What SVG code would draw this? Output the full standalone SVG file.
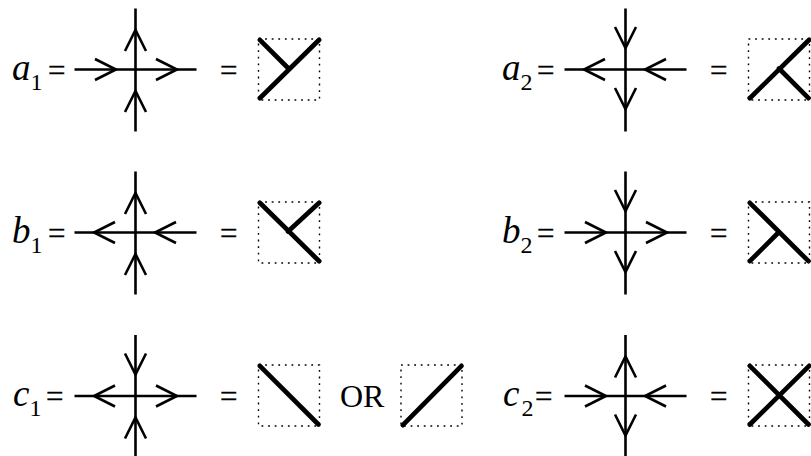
<svg xmlns="http://www.w3.org/2000/svg" width="811" height="456" viewBox="0 0 811 456">
<style>
.t{font-family:"Liberation Serif",serif;fill:#000}
.i{font-style:italic;font-size:37px}
.s{font-size:24px}
.e{font-size:31px;stroke:#000;stroke-width:.35}
.o{font-size:32px}
.w{fill:none;stroke:#000;stroke-width:2.6;stroke-linecap:butt}
.b{fill:none;stroke:#000;stroke-width:1.4;stroke-dasharray:1.8 4.8}
.k{fill:none;stroke:#000;stroke-width:4.7;stroke-linecap:round}
</style>
<defs>
<path id="cross" class="w" d="M-61 0H61M0-61V62"/>
<path id="hr" class="w" d="M-22.500-10.500L-1.500 0L-22.500 10.500"/>
<path id="box" class="b" d="M0 0H61V61H0Z"/>
</defs>
<g id="connectors">
<g id="a1-cross" transform="translate(135.500 69.500)"><use href="#cross"/><use href="#hr" transform="translate(-18 0)"/><use href="#hr" transform="translate(43 0)"/><use href="#hr" transform="translate(0 -41) rotate(-90)"/><use href="#hr" transform="translate(0 20) rotate(-90)"/></g>
<g id="a2-cross" transform="translate(625.500 69.500)"><use href="#cross"/><use href="#hr" transform="translate(-43 0) rotate(180)"/><use href="#hr" transform="translate(18 0) rotate(180)"/><use href="#hr" transform="translate(0 -20) rotate(90)"/><use href="#hr" transform="translate(0 41) rotate(90)"/></g>
<g id="b1-cross" transform="translate(135.500 232.500)"><use href="#cross"/><use href="#hr" transform="translate(-43 0) rotate(180)"/><use href="#hr" transform="translate(18 0) rotate(180)"/><use href="#hr" transform="translate(0 -41) rotate(-90)"/><use href="#hr" transform="translate(0 20) rotate(-90)"/></g>
<g id="b2-cross" transform="translate(625.500 232.500)"><use href="#cross"/><use href="#hr" transform="translate(-18 0)"/><use href="#hr" transform="translate(43 0)"/><use href="#hr" transform="translate(0 -20) rotate(90)"/><use href="#hr" transform="translate(0 41) rotate(90)"/></g>
<g id="c1-cross" transform="translate(135.500 396)"><use href="#cross"/><use href="#hr" transform="translate(-43 0) rotate(180)"/><use href="#hr" transform="translate(43 0)"/><use href="#hr" transform="translate(0 -20) rotate(90)"/><use href="#hr" transform="translate(0 20) rotate(-90)"/></g>
<g id="c2-cross" transform="translate(625.500 396)"><use href="#cross"/><use href="#hr" transform="translate(-18 0)"/><use href="#hr" transform="translate(18 0) rotate(180)"/><use href="#hr" transform="translate(0 -41) rotate(-90)"/><use href="#hr" transform="translate(0 41) rotate(90)"/></g>
</g>
<g id="a1"><text class="t" x="12" y="80"><tspan class="i">a</tspan><tspan class="s" dy="10">1</tspan></text><text class="t e" x="48" y="81">=</text><text class="t e" x="220" y="81">=</text><use href="#box" x="258.500" y="39"/><path class="k" d="M259.800 98.200L319.200 39.800M259.800 39.800L288 68"/></g>
<g id="a2"><text class="t" x="502" y="80"><tspan class="i">a</tspan><tspan class="s" dy="10">2</tspan></text><text class="t e" x="537" y="81">=</text><text class="t e" x="710" y="81">=</text><use href="#box" x="748.500" y="39"/><path class="k" d="M749.800 98.200L809.200 39.800M779 68.500L808.500 98.200"/></g>
<g id="b1"><text class="t" x="12" y="243"><tspan class="i">b</tspan><tspan class="s" dy="10">1</tspan></text><text class="t e" x="48" y="244">=</text><text class="t e" x="220" y="244">=</text><use href="#box" x="258.500" y="202"/><path class="k" d="M259.800 202.800L319.200 261.200M288 231.500L319.200 202.800"/></g>
<g id="b2"><text class="t" x="502" y="243"><tspan class="i">b</tspan><tspan class="s" dy="10">2</tspan></text><text class="t e" x="537" y="244">=</text><text class="t e" x="710" y="244">=</text><use href="#box" x="748.500" y="202"/><path class="k" d="M749.800 202.800L808.500 261.200M749.800 261.200L778 233"/></g>
<g id="c1"><text class="t" x="13" y="406"><tspan class="i">c</tspan><tspan class="s" dy="10">1</tspan></text><text class="t e" x="46" y="407">=</text><text class="t e" x="220" y="407">=</text><use href="#box" x="258.500" y="365"/><path class="k" d="M259.800 365.800L318.500 424.500"/></g>
<g id="or"><text class="t o" x="340" y="407">OR</text><use href="#box" x="401" y="365"/><path class="k" d="M402.800 425.200L461.500 365.800"/></g>
<g id="c2"><text class="t" x="503" y="406"><tspan class="i">c</tspan><tspan class="s" dx="2" dy="10">2</tspan></text><text class="t e" x="535" y="407">=</text><text class="t e" x="710" y="407">=</text><use href="#box" x="748.500" y="365"/><path class="k" d="M749.800 424.500L809.200 365.800M749.800 365.800L808.500 424.500"/></g>
</svg>
